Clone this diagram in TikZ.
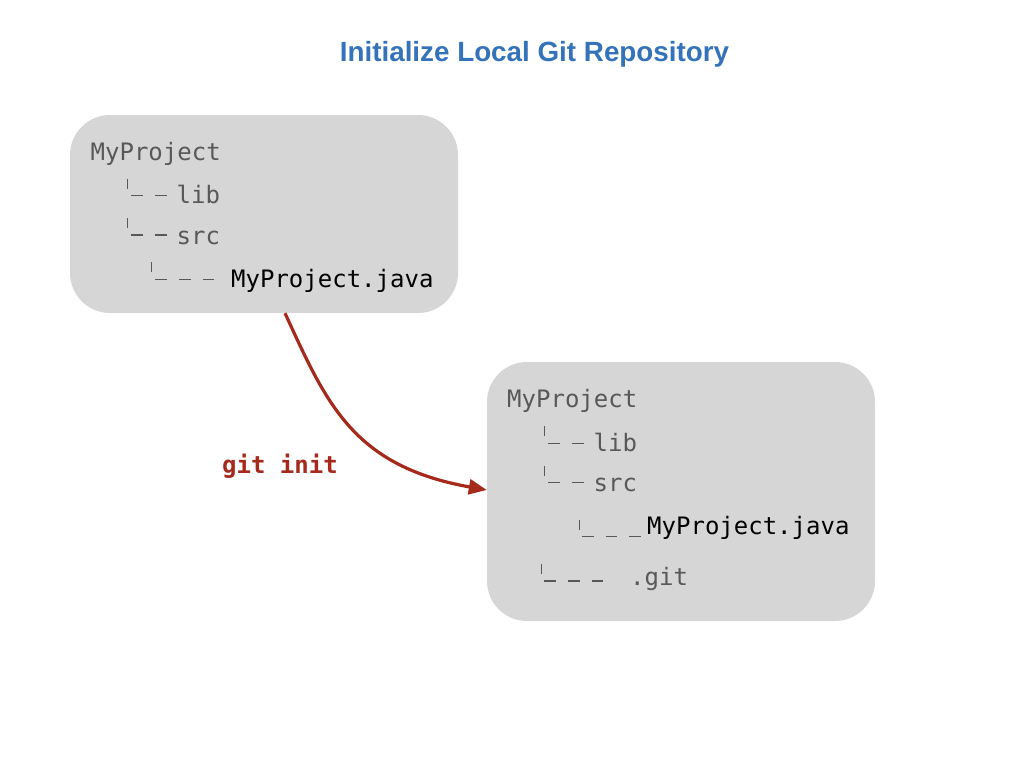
\documentclass[tikz,border=0pt]{standalone}
\usepackage{fontspec}
\setmainfont{Liberation Sans}
\setmonofont{DejaVu Sans Mono}
\usepackage{xcolor}
\usepackage{tikz}
\usetikzlibrary{arrows.meta}
\definecolor{titleblue}{RGB}{52,115,185}
\definecolor{gitred}{RGB}{165,42,28}
\definecolor{boxgray}{RGB}{214,214,214}
\definecolor{treegray}{RGB}{88,88,88}

\begin{document}
\begin{tikzpicture}[x=1pt, y=-1pt,
  box/.style={fill=boxgray, rounded corners=40pt, minimum width=388pt, inner sep=0pt},
  tree/.style={anchor=base west, inner sep=0pt, text=treegray, font=\fontsize{24}{28}\selectfont\ttfamily},
  file/.style={tree, text=black},
  branch/.style={treegray, line width=1.4pt, dash pattern=on 11.8pt off 12pt},
  tick/.style={treegray, line width=0.9pt}]
\useasboundingbox (0,0) rectangle (1024,768);
\node[anchor=base, text=titleblue, font=\fontsize{27.8}{32}\selectfont\bfseries] (title) at (534.5,62) {Initialize Local Git Repository};
% before
\node[box, minimum height=198pt] (before) at (264,214) {};
\node[tree] (p1) at (90.5,160) {MyProject};
\node[tree] (lib1) at (176.5,203) {lib};
\node[tree] (src1) at (176.5,244) {src};
\node[file] (java1) at (231,287) {MyProject.java};
\foreach \tx/\dy/\xa/\xb in {127.5/195.7/131/166.7, 127.5/235/131/166.7, 151.7/279.3/155/214.3}{
  \draw[tick] (\tx,\dy-17) -- (\tx,\dy-7);
  \draw[branch] (\xa,\dy) -- (\xb,\dy);
}
% after
\node[box, minimum height=259pt] (after) at (681,491.5) {};
\node[tree] (p2) at (507,407) {MyProject};
\node[tree] (lib2) at (593.5,451) {lib};
\node[tree] (src2) at (593.5,491.5) {src};
\node[file] (java2) at (647,534) {MyProject.java};
\node[tree] (git2) at (630,585) {.git};
\foreach \tx/\dy/\xa/\xb in {544.3/443.3/548/584, 544.3/482.7/548/584, 579/536.7/581.7/641.7, 541/581/544/603.3}{
  \draw[tick] (\tx,\dy-17) -- (\tx,\dy-7);
  \draw[branch] (\xa,\dy) -- (\xb,\dy);
}
% git init
\draw[gitred, line width=3.2pt, -{Triangle[length=18pt,width=15pt]}] ([xshift=21pt]before.south) .. controls (326,402) and (352,466) .. ([yshift=1.5pt]after.west);
\node[anchor=base west, inner sep=0pt, text=gitred, font=\fontsize{24}{28}\selectfont\ttfamily\bfseries] (cmd) at (222,473) {git init};
\end{tikzpicture}
\end{document}
